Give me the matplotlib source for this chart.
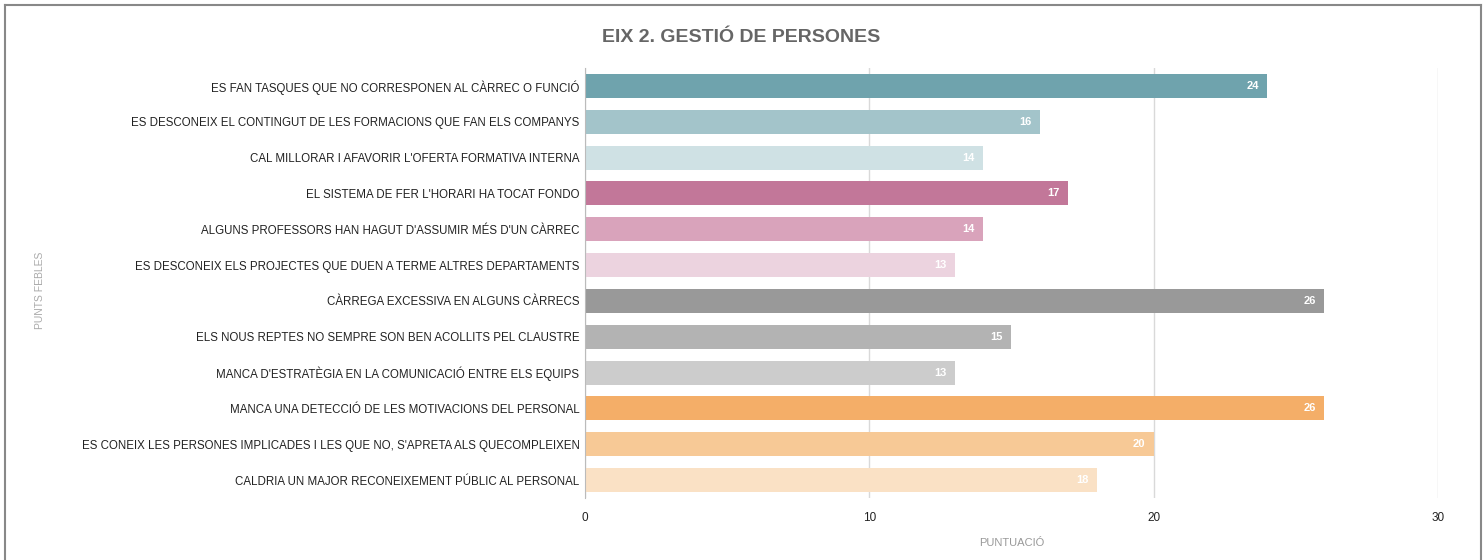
import matplotlib.pyplot as plt
from matplotlib.lines import Line2D

plt.rcParams['font.family'] = ['Liberation Sans', 'DejaVu Sans']

categories = [
    "ES FAN TASQUES QUE NO CORRESPONEN AL CÀRREC O FUNCIÓ",
    "ES DESCONEIX EL CONTINGUT DE LES FORMACIONS QUE FAN ELS COMPANYS",
    "CAL MILLORAR I AFAVORIR L'OFERTA FORMATIVA INTERNA",
    "EL SISTEMA DE FER L'HORARI HA TOCAT FONDO",
    "ALGUNS PROFESSORS HAN HAGUT D'ASSUMIR MÉS D'UN CÀRREC",
    "ES DESCONEIX ELS PROJECTES QUE DUEN A TERME ALTRES DEPARTAMENTS",
    "CÀRREGA EXCESSIVA EN ALGUNS CÀRRECS",
    "ELS NOUS REPTES NO SEMPRE SON BEN ACOLLITS PEL CLAUSTRE",
    "MANCA D'ESTRATÈGIA EN LA COMUNICACIÓ ENTRE ELS EQUIPS",
    "MANCA UNA DETECCIÓ DE LES MOTIVACIONS DEL PERSONAL",
    "ES CONEIX LES PERSONES IMPLICADES I LES QUE NO, S'APRETA ALS QUECOMPLEIXEN",
    "CALDRIA UN MAJOR RECONEIXEMENT PÚBLIC AL PERSONAL",
]
values = [24, 16, 14, 17, 14, 13, 26, 15, 13, 26, 20, 18]
colors = ["#6fa3ad", "#a3c4ca", "#cfe1e4", "#c27799", "#d9a3bb", "#ecd3df",
          "#999999", "#b3b3b3", "#cccccc", "#f4ae68", "#f7c996", "#fae1c5"]
xticks = [0, 10, 20, 30]

fig = plt.figure(figsize=(14.83, 5.6), dpi=100)
ax = fig.add_axes([0.3945, 0.1107, 0.5751, 0.7679])

y = list(range(len(categories)))
bars = ax.barh(y, values, height=0.67, color=colors, zorder=2)
for b, v in zip(bars, values):
    ax.text(b.get_width() - 0.3, b.get_y() + b.get_height() / 2, str(v),
            ha='right', va='center', color='white', fontsize=8, fontweight='bold', zorder=3)

ax.set_ylim(len(categories) - 0.5, -0.5)
ax.set_xlim(0, 30)
ax.set_yticks(y)
ax.set_yticklabels(categories, fontsize=8.3, color='#222222')
ax.set_xticks(xticks)
ax.set_xticklabels([str(t) for t in xticks], fontsize=8.5, color='#222222')
ax.tick_params(axis='y', length=0, pad=4)
ax.tick_params(axis='x', length=0, pad=10)
ax.grid(axis='x', color='#d9d9d9', linewidth=1, zorder=0)
for s in ['top', 'right', 'bottom']:
    ax.spines[s].set_visible(False)
ax.spines['left'].set_color('#bbbbbb')

ax.set_xlabel("PUNTUACIÓ", fontsize=8, color='#999999', labelpad=10)
fig.text(0.027, 0.482, "PUNTS FEBLES", rotation=90, ha='center', va='center',
         fontsize=7.5, color='#aaaaaa')
fig.text(0.5, 0.933, "EIX 2. GESTIÓ DE PERSONES", ha='center', va='center',
         fontsize=14, fontweight='bold', color='#666666')

# chart border
fig.add_artist(Line2D([0.0035, 0.0035], [0.0, 0.991], color='#888888', lw=1.5))
fig.add_artist(Line2D([0.0035, 0.9985], [0.991, 0.991], color='#888888', lw=1.5))
fig.add_artist(Line2D([0.9985, 0.9985], [0.0, 0.991], color='#888888', lw=1.5))

fig.savefig("out.png", dpi=100)
